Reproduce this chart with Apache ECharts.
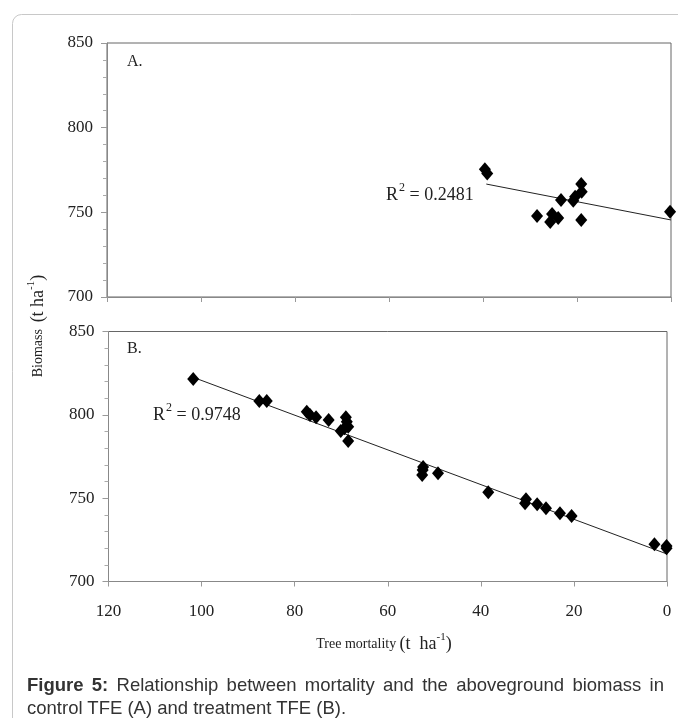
<!DOCTYPE html>
<html>
<head>
<meta charset="utf-8">
<script src="https://cdn.jsdelivr.net/npm/echarts@6/dist/echarts.min.js"></script>
<style>
html,body{margin:0;padding:0;background:#fff;}
#chart{width:678px;height:718px;position:absolute;left:0;top:0;}
#cap{position:absolute;left:27px;top:673px;width:637px;font-family:'Liberation Sans',Arial,sans-serif;font-size:18.5px;color:#333;line-height:23px;}
#cap .l1{white-space:nowrap;display:flex;justify-content:space-between;}
</style>
</head>
<body>
<div id="chart"></div>
<div id="cap">
<div class="l1"><span><b>Figure</b></span><span><b>5:</b></span><span>Relationship</span><span>between</span><span>mortality</span><span>and</span><span>the</span><span>aboveground</span><span>biomass</span><span>in</span></div>
<div>control TFE (A) and treatment TFE (B).</div>
</div>
<script>
// Panel A (control TFE)
const mortalityA = [39.6, 39.1, 23.4, 28.5, 25.3, 25.7, 24.0, 19.1, 19.0, 20.4, 20.8, 19.1, 0.2];
const biomassA   = [775.5, 773.0, 757.3, 747.8, 749.0, 744.3, 746.6, 766.7, 762.2, 759.2, 756.9, 745.5, 750.4];
const trendA_x = [39.3, 0];
const trendA_y = [766.7, 745.5];
const r2A = '0.2481';

// Panel B (treatment TFE)
const mortalityB = [101.8, 87.6, 86.0, 77.4, 76.7, 75.4, 72.7, 69.0, 68.8, 68.5, 70.1, 69.3, 68.5,
                    52.5, 52.6, 52.4, 49.2, 38.4, 30.3, 30.5, 27.9, 26.0, 23.0, 20.5, 2.7, 0.1, 0.1];
const biomassB   = [821.5, 808.3, 808.3, 801.9, 799.9, 798.5, 796.9, 798.5, 795.9, 792.9, 790.3, 791.9, 784.3,
                    766.9, 763.9, 768.7, 764.9, 753.5, 749.3, 746.9, 746.3, 743.9, 740.9, 739.3, 722.3, 721.3, 719.9];
const trendB_x = [101.8, 0];
const trendB_y = [822.5, 716.5];
const r2B = '0.9748';

const xTicks = [0, 20, 40, 60, 80, 100, 120];
const yTicks = [700, 750, 800, 850];

const serif = 'Liberation Serif';
const zip = (a, b) => a.map((v, i) => [v, b[i]]);

const chart = echarts.init(document.getElementById('chart'), null, {renderer: 'canvas'});

const labelRich = {v: {fontFamily: serif, fontSize: 17, color: '#222'}};

function xAxisCfg(idx, showLabel) {
  return {
    type: 'value', gridIndex: idx, inverse: true, position: 'bottom',
    min: xTicks[0], max: xTicks[xTicks.length - 1], interval: 20,
    axisLine: {show: true, onZero: false, lineStyle: {color: '#888', width: 1}},
    axisTick: {show: true, length: 5, lineStyle: {color: '#999'}},
    axisLabel: {show: showLabel, margin: 22, fontFamily: serif, fontSize: 17, color: '#222',
                formatter: '{v|{value}}', rich: labelRich},
    splitLine: {show: false}
  };
}
function yAxisCfg(idx) {
  return {
    type: 'value', gridIndex: idx, position: 'left',
    min: yTicks[0], max: yTicks[yTicks.length - 1], interval: 50,
    axisLine: {show: true, onZero: false, lineStyle: {color: '#888', width: 1}},
    axisTick: {show: true, length: 6, lineStyle: {color: '#999'}},
    minorTick: {show: true, splitNumber: 5, length: 4, lineStyle: {color: '#aaa'}},
    axisLabel: {margin: 14, fontFamily: serif, fontSize: 17, color: '#222',
                formatter: '{v|{value}}', rich: labelRich},
    splitLine: {show: false}, minorSplitLine: {show: false}
  };
}
const markerStyle = {color: '#000', opacity: 1};

const option = {
  backgroundColor: '#fff',
  animation: false,
  textStyle: {fontFamily: serif},
  grid: [
    {left: 107, top: 43, width: 564, height: 254, show: true, borderColor: '#666', borderWidth: 1, backgroundColor: 'transparent'},
    {left: 108.5, top: 331.5, width: 558.5, height: 250, show: true, borderColor: '#666', borderWidth: 1, backgroundColor: 'transparent'}
  ],
  xAxis: [xAxisCfg(0, false), xAxisCfg(1, true)],
  yAxis: [yAxisCfg(0), yAxisCfg(1)],
  series: [
    {type: 'line', xAxisIndex: 0, yAxisIndex: 0, data: zip(trendA_x, trendA_y), showSymbol: false, symbol: 'none',
     lineStyle: {color: '#222', width: 1}, z: 2, silent: true},
    {type: 'scatter', xAxisIndex: 0, yAxisIndex: 0, data: zip(mortalityA, biomassA), symbol: 'diamond', symbolSize: [12, 14],
     itemStyle: markerStyle, z: 3},
    {type: 'line', xAxisIndex: 1, yAxisIndex: 1, data: zip(trendB_x, trendB_y), showSymbol: false, symbol: 'none',
     lineStyle: {color: '#222', width: 1}, z: 2, silent: true},
    {type: 'scatter', xAxisIndex: 1, yAxisIndex: 1, data: zip(mortalityB, biomassB), symbol: 'diamond', symbolSize: [12, 14],
     itemStyle: markerStyle, z: 3}
  ],
  graphic: [
    {type: 'rect', shape: {x: 12.5, y: 14.5, width: 720, height: 760, r: 9}, style: {fill: 'none', stroke: '#c8c8c8', lineWidth: 1}, z: -1},
    {type: 'text', left: 127, top: 54, style: {text: 'A.', font: '16px "Liberation Serif"', fill: '#222'}},
    {type: 'text', left: 127, top: 341, style: {text: 'B.', font: '16px "Liberation Serif"', fill: '#222'}},
    {type: 'text', left: 386, top: 182, style: {
      text: '{r|R}{s|2}{r| = ' + r2A + '}', fill: '#222',
      rich: {r: {fontSize: 18, fontFamily: serif, fill: '#222'}, s: {fontSize: 12, fontFamily: serif, padding: [0, 0, 15, 1]}}
    }},
    {type: 'text', left: 153, top: 402, style: {
      text: '{r|R}{s|2}{r| = ' + r2B + '}', fill: '#222',
      rich: {r: {fontSize: 18, fontFamily: serif, fill: '#222'}, s: {fontSize: 12, fontFamily: serif, padding: [0, 0, 15, 1]}}
    }},
    {type: 'text', x: 38, y: 326, rotation: Math.PI / 2, style: {
      text: '{a|Biomass}  {b|(t ha}{s|-1}{b|)}', align: 'center', verticalAlign: 'middle', fill: '#222',
      rich: {a: {fontSize: 14, fontFamily: serif}, b: {fontSize: 18, fontFamily: serif}, s: {fontSize: 11, fontFamily: serif, padding: [0, 0, 14, 0]}}
    }},
    {type: 'text', x: 384, y: 644, style: {
      text: '{a|Tree mortality} {b|(t  ha}{s|-1}{b|)}', align: 'center', verticalAlign: 'middle', fill: '#222',
      rich: {a: {fontSize: 14, fontFamily: serif}, b: {fontSize: 18, fontFamily: serif}, s: {fontSize: 11, fontFamily: serif, padding: [0, 0, 14, 0]}}
    }}
  ]
};
chart.setOption(option);
</script>
</body>
</html>
